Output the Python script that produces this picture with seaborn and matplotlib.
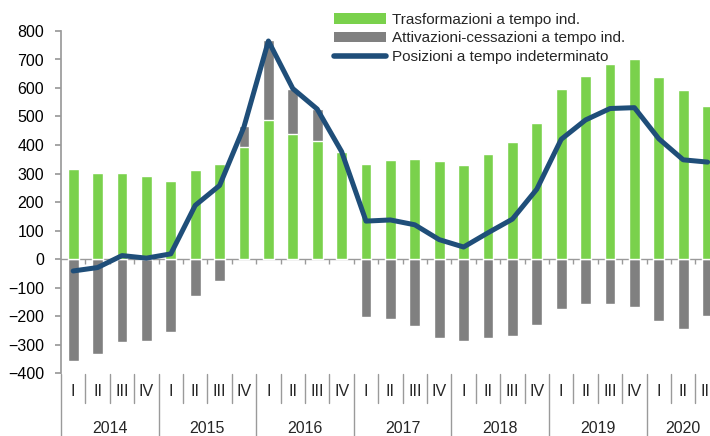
import numpy as np
import pandas as pd
import matplotlib
matplotlib.use("Agg")
import matplotlib.pyplot as plt
import matplotlib.transforms as mtransforms
from matplotlib.lines import Line2D
from matplotlib.patches import Patch
import seaborn as sns

# values (thousands)
years = [2014] * 4 + [2015] * 4 + [2016] * 4 + [2017] * 4 + [2018] * 4 + [2019] * 4 + [2020] * 3
quarters = ["I", "II", "III", "IV"] * 6 + ["I", "II", "III"]
trasformazioni = [315, 303, 301, 290, 275, 312, 333, 392, 488, 439, 414, 375,
                  334, 346, 352, 343, 329, 367, 410, 478, 596, 642, 684, 701,
                  639, 592, 537]
attivazioni_cessazioni = [-358, -333, -290, -288, -257, -129, -76, 74, 279, 159, 112, 3,
                          -204, -211, -235, -276, -289, -277, -271, -233, -177, -157, -157, -170,
                          -216, -245, -199]
posizioni = [-42, -30, 12, 3, 18, 188, 258, 464, 765, 598, 526, 377,
             133, 137, 120, 68, 42, 92, 140, 245, 420, 488, 528, 531,
             422, 348, 340]

GREEN = "#7ad14c"
GREY = "#808080"
BLUE = "#1f4e79"
AXIS_GREY = "#9a9a9a"

df = pd.DataFrame({
    "periodo": [f"{y} {q}" for y, q in zip(years, quarters)],
    "trasf": trasformazioni,
    "att": attivazioni_cessazioni,
    "pos": posizioni,
})
# grey segment sits on top of the green one when positive, below zero otherwise
df["grey_top"] = np.where(df["att"] > 0, df["trasf"] + df["att"], df["att"])
n = len(df)

sns.set_theme(style="white")
plt.rcParams["font.family"] = ["Liberation Sans", "DejaVu Sans"]

fig = plt.figure(figsize=(7.1, 4.36), dpi=100)
W, H = 710, 436
slot = 24.4
ax = fig.add_axes([61 / W, (H - 373) / H, n * slot / W, 342 / H])

sns.barplot(data=df, x="periodo", y="grey_top", color=GREY, width=0.45,
            saturation=1, ax=ax, zorder=2)
sns.barplot(data=df, x="periodo", y="trasf", color=GREEN, width=0.45,
            saturation=1, ax=ax, zorder=3)
sns.lineplot(x=np.arange(n), y=df["pos"], color=BLUE, lw=3.6, ax=ax,
             zorder=4, solid_joinstyle="round", solid_capstyle="round")

ax.set_xlim(-0.5, n - 0.5)
ax.set_ylim(-400, 800)
ax.set_yticks(np.arange(-400, 801, 100))
ax.set_xticks([])
ax.set_xlabel("")
ax.set_ylabel("")
for s in ["top", "right", "bottom"]:
    ax.spines[s].set_visible(False)
ax.spines["left"].set_color(AXIS_GREY)
ax.tick_params(axis="y", left=True, length=4.3, color=AXIS_GREY, labelsize=11.5,
               labelcolor="black", pad=8)

# category axis crossing at zero, with small ticks between quarters
ax.axhline(0, color=AXIS_GREY, lw=1, zorder=1)
ax.vlines(np.arange(n) + 0.5, -17, 0, color=AXIS_GREY, lw=1, zorder=1)

# multi-level category labels below the plot
tr = mtransforms.blended_transform_factory(ax.transData, fig.transFigure)
y_top = (H - 374) / H
y_q = (H - 403) / H
for i, q in enumerate(quarters):
    ax.text(i, (H - 391) / H, q, transform=tr, ha="center", va="center",
            fontsize=11.5, clip_on=False)
for i in range(n + 1):
    start_of_year = i == 0 or i == n or years[i] != years[i - 1]
    ax.add_line(Line2D([i - 0.5, i - 0.5], [y_top, 0 if start_of_year else y_q],
                       transform=tr, color=AXIS_GREY, lw=1, clip_on=False))
for y in sorted(set(years)):
    idx = [i for i, v in enumerate(years) if v == y]
    ax.text(np.mean(idx), (H - 428) / H, str(y), transform=tr, ha="center",
            va="center", fontsize=11.5, clip_on=False)

handles = [
    Patch(facecolor=GREEN, edgecolor="none"),
    Patch(facecolor=GREY, edgecolor="none"),
    Line2D([], [], color=BLUE, lw=4, solid_capstyle="round"),
]
labels = ["Trasformazioni a tempo ind.",
          "Attivazioni-cessazioni a tempo ind.",
          "Posizioni a tempo indeterminato"]
fig.legend(handles, labels, loc="upper left", bbox_to_anchor=(323 / W, 1 - 2 / H),
           frameon=False, fontsize=11, handlelength=3.4, handleheight=0.68,
           handletextpad=0.4, labelspacing=0.3, borderpad=0.2)

fig.savefig("out.png", dpi=100)
